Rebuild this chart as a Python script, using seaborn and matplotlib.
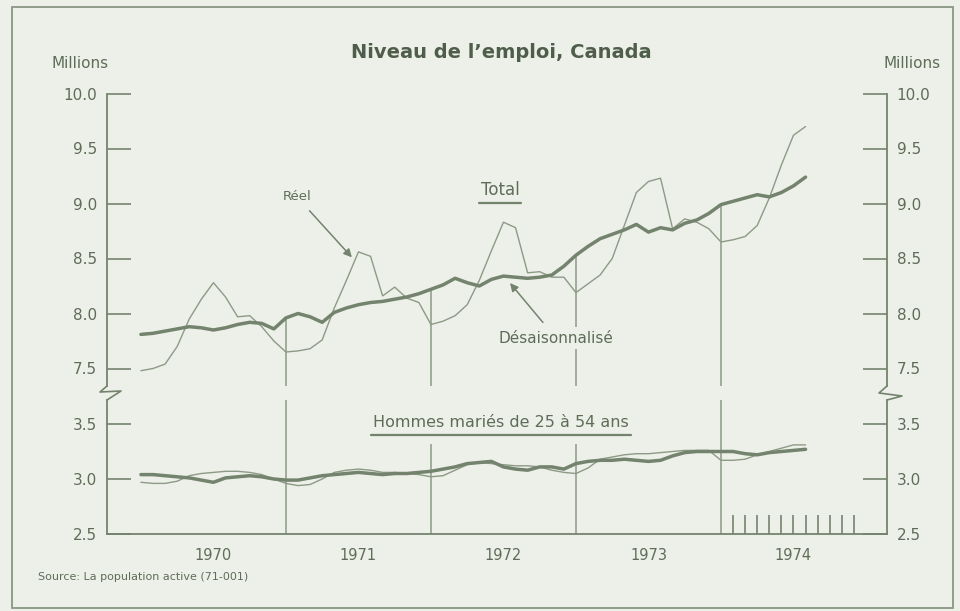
import numpy as np
import pandas as pd
import matplotlib
matplotlib.use("Agg")
import matplotlib.pyplot as plt
from matplotlib.lines import Line2D
from matplotlib.patches import Rectangle
import seaborn as sns

# monthly data, Jan 1970 - Aug 1974 (millions)
months = pd.date_range("1970-01-01", "1974-08-01", freq="MS")

total_reel = [7.48, 7.50, 7.54, 7.70, 7.95, 8.13, 8.28, 8.15, 7.97, 7.98, 7.88, 7.75,
              7.65, 7.66, 7.68, 7.76, 8.05, 8.30, 8.56, 8.52, 8.16, 8.24, 8.14, 8.10,
              7.90, 7.93, 7.98, 8.08, 8.30, 8.57, 8.83, 8.78, 8.37, 8.38, 8.33, 8.33,
              8.19, 8.27, 8.35, 8.50, 8.80, 9.10, 9.20, 9.23, 8.77, 8.86, 8.83, 8.77,
              8.65, 8.67, 8.70, 8.80, 9.05, 9.35, 9.62, 9.70]
total_desais = [7.81, 7.82, 7.84, 7.86, 7.88, 7.87, 7.85, 7.87, 7.90, 7.92, 7.91, 7.86,
                7.96, 8.00, 7.97, 7.92, 8.01, 8.05, 8.08, 8.10, 8.11, 8.13, 8.15, 8.18,
                8.22, 8.26, 8.32, 8.28, 8.25, 8.31, 8.34, 8.33, 8.32, 8.33, 8.35, 8.43,
                8.53, 8.61, 8.68, 8.72, 8.76, 8.81, 8.74, 8.78, 8.76, 8.82, 8.85, 8.91,
                8.99, 9.02, 9.05, 9.08, 9.06, 9.10, 9.16, 9.24]
hommes_reel = [2.97, 2.96, 2.96, 2.98, 3.03, 3.05, 3.06, 3.07, 3.07, 3.06, 3.04, 3.00,
               2.96, 2.94, 2.95, 3.00, 3.06, 3.08, 3.09, 3.08, 3.06, 3.06, 3.05, 3.04,
               3.02, 3.03, 3.08, 3.13, 3.15, 3.14, 3.13, 3.12, 3.12, 3.11, 3.08, 3.06,
               3.05, 3.10, 3.18, 3.20, 3.22, 3.23, 3.23, 3.24, 3.25, 3.26, 3.26, 3.26,
               3.17, 3.17, 3.18, 3.22, 3.25, 3.28, 3.31, 3.31]
hommes_desais = [3.04, 3.04, 3.03, 3.02, 3.01, 2.99, 2.97, 3.01, 3.02, 3.03, 3.02, 3.00,
                 2.99, 2.99, 3.01, 3.03, 3.04, 3.05, 3.06, 3.05, 3.04, 3.05, 3.05, 3.06,
                 3.07, 3.09, 3.11, 3.14, 3.15, 3.16, 3.11, 3.09, 3.08, 3.11, 3.11, 3.09,
                 3.14, 3.16, 3.17, 3.17, 3.18, 3.17, 3.16, 3.17, 3.21, 3.24, 3.25, 3.25,
                 3.25, 3.25, 3.23, 3.22, 3.24, 3.25, 3.26, 3.27]

years = [1970, 1971, 1972, 1973, 1974]
year_dividers = [1971, 1972, 1973, 1974]
top_ticks = [7.5, 8.0, 8.5, 9.0, 9.5, 10.0]
bottom_ticks = [2.5, 3.0, 3.5]

BG = "#EDF0E8"
INK = "#5E6C58"
LINE = "#74836E"
THIN = "#8C9A86"

sns.set_style("white")
plt.rcParams["font.family"] = ["DejaVu Sans"]
plt.rcParams["text.color"] = INK

df = pd.DataFrame({
    "x": months.year + (months.month - 1) / 12,
    "total_reel": total_reel,
    "total_desais": total_desais,
    "hommes_reel": hommes_reel,
    "hommes_desais": hommes_desais,
})

W, H = 960, 611
def fx(px):
    return px / W
def fy(py):
    return 1 - py / H

fig = plt.figure(figsize=(W / 100, H / 100), dpi=100, facecolor=BG)
ax_top = fig.add_axes([fx(107), fy(386), fx(887) - fx(107), fy(93.5) - fy(386)])
ax_bot = fig.add_axes([fx(107), fy(534), fx(887) - fx(107), fy(400) - fy(534)])

PX_PER_UNIT = 110.0
XLIM = (1969.766, 1975.145)
ax_top.set_ylim(7.5 - (386 - 368.5) / PX_PER_UNIT, 10.0)
ax_bot.set_ylim(2.5, 2.5 + (534 - 400) / PX_PER_UNIT)

for ax in (ax_top, ax_bot):
    ax.set_facecolor(BG)
    ax.set_xlim(*XLIM)
    ax.spines["top"].set_visible(False)
    for s in ("left", "right", "bottom"):
        ax.spines[s].set_color(LINE)
        ax.spines[s].set_linewidth(1.3)
    ax.tick_params(axis="y", direction="in", length=17, width=1.2, color=LINE,
                   left=True, right=True, labelleft=True, labelright=True,
                   labelsize=11, labelcolor=INK, pad=7)
ax_top.spines["bottom"].set_visible(False)

ax_top.set_yticks(top_ticks)
ax_top.set_yticklabels([f"{v:.1f}" for v in top_ticks])
ax_bot.set_yticks(bottom_ticks)
ax_bot.set_yticklabels([f"{v:.1f}" for v in bottom_ticks])

# lines
sns.lineplot(data=df, x="x", y="total_reel", ax=ax_top, color=THIN, linewidth=1.0, zorder=3)
sns.lineplot(data=df, x="x", y="total_desais", ax=ax_top, color=LINE, linewidth=2.5, zorder=4)
sns.lineplot(data=df, x="x", y="hommes_reel", ax=ax_bot, color=THIN, linewidth=1.0, zorder=3)
sns.lineplot(data=df, x="x", y="hommes_desais", ax=ax_bot, color=LINE, linewidth=2.5, zorder=4)

# year dividers, up to the upper of the two curves
for yr in year_dividers:
    idx = (yr - 1970) * 12
    top_val = max(total_reel[idx], total_desais[idx])
    ax_top.vlines(yr, ax_top.get_ylim()[0], top_val, color=THIN, lw=1.1, zorder=2)
    ax_bot.vlines(yr, 2.5, ax_bot.get_ylim()[1], color=THIN, lw=1.1, zorder=2)

# x axis: year labels centred, month ticks for the last year
ax_top.set_xticks([])
for ax in (ax_top, ax_bot):
    ax.set_xlabel("")
    ax.set_ylabel("")
ax_bot.xaxis.remove_overlapping_locs = False
ax_bot.set_xticks([y + 0.5 for y in years])
ax_bot.set_xticklabels([str(y) for y in years])
ax_bot.set_xticks([1974 + k / 12 for k in range(1, 12)], minor=True)
ax_bot.tick_params(axis="x", which="major", length=0, pad=10, labelsize=10.5, labelcolor=INK)
ax_bot.tick_params(axis="x", which="minor", direction="in", length=14, width=1.2,
                   color=LINE, bottom=True)

# annotations
arrow = dict(arrowstyle="-|>", color=LINE, lw=1.1, mutation_scale=12, shrinkA=4, shrinkB=0)
ax_top.annotate("Réel", xy=(1971.455, 8.51), xytext=(1971.076, 9.06),
                ha="center", va="center", fontsize=9.5, arrowprops=arrow, zorder=6)
ax_top.annotate("Désaisonnalisé", xy=(1972.545, 8.277), xytext=(1972.862, 7.777),
                ha="center", va="center", fontsize=11, arrowprops=arrow, zorder=6,
                bbox=dict(boxstyle="square,pad=0.25", fc=BG, ec="none"))
t_total = ax_top.text(1972.476, 9.123, "Total", ha="center", va="center", fontsize=12, zorder=6)
t_hom = ax_bot.text(1972.483, 3.518, "Hommes mariés de 25 à 54 ans", ha="center", va="center",
                    fontsize=11.5, zorder=6,
                    bbox=dict(boxstyle="square,pad=0.9", fc=BG, ec="none"))

fig.text(fx(501), fy(52), "Niveau de l\u2019emploi, Canada", ha="center", va="center",
         fontsize=14, fontweight="bold", color="#4F5E4A")
fig.text(fx(80), fy(64), "Millions", ha="center", va="center", fontsize=11)
fig.text(fx(912), fy(64), "Millions", ha="center", va="center", fontsize=11)
fig.text(fx(38), fy(577), "Source: La population active (71-001)", ha="left", va="center",
         fontsize=8)

# axis break marks
for pts in ([(107, 386), (100, 392), (121, 391), (107, 400)],
            [(887, 386), (879, 393), (902, 396), (887, 400)]):
    fig.add_artist(Line2D([fx(p[0]) for p in pts], [fy(p[1]) for p in pts],
                          color=LINE, lw=1.2, transform=fig.transFigure))

# outer frame
fig.add_artist(Rectangle((fx(12), fy(608)), fx(953) - fx(12), fy(7) - fy(608),
                         fill=False, ec="#8A9784", lw=1.3, transform=fig.transFigure))

# underline the two series headings
fig.canvas.draw()
renderer = fig.canvas.get_renderer()
inv = fig.transFigure.inverted()
for t in (t_total, t_hom):
    bb = t.get_window_extent(renderer)
    cy = (bb.y0 + bb.y1) / 2 - 13
    (x0, y0), (x1, _) = inv.transform([(bb.x0 - 2, cy), (bb.x1 + 2, cy)])
    fig.add_artist(Line2D([x0, x1], [y0, y0], color=LINE, lw=1.6, transform=fig.transFigure))

fig.savefig("out.png", dpi=100, facecolor=BG)
